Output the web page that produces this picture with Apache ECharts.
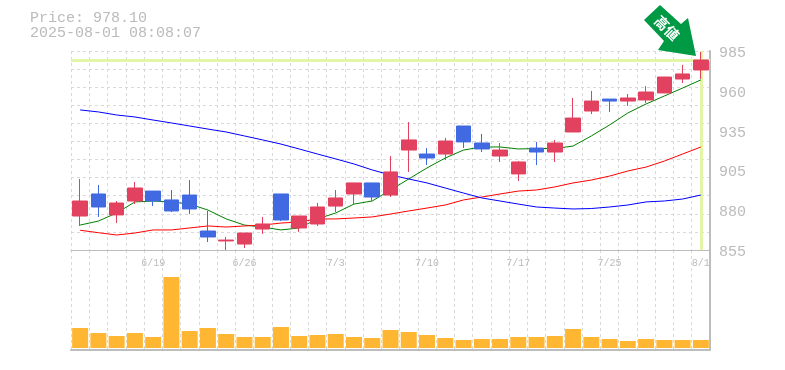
<!DOCTYPE html>
<html>
<head>
<meta charset="utf-8">
<style>
  html, body { margin: 0; padding: 0; background: #fff; }
  #chart { width: 785px; height: 370px; }
</style>
<script src="https://cdn.jsdelivr.net/npm/echarts@6/dist/echarts.min.js"></script>
</head>
<body>
<div id="chart"></div>
<script>
const categories = ['6/13','6/16','6/17','6/18','6/19','6/20','6/23','6/24','6/25','6/26','6/27','6/30','7/1','7/2','7/3','7/4','7/7','7/8','7/9','7/10','7/11','7/14','7/15','7/16','7/17','7/18','7/22','7/23','7/24','7/25','7/28','7/29','7/30','7/31','8/1']
// open, close, low, high
const candles = [
  [877.2,887,870.7,901.4],[891.6,883.1,876.6,897.5],[877.9,885.7,872.6,887],[887,895.5,885,899.4],[893.5,887,883.7,893.5],
  [887.7,880.5,879.8,894.2],[890.9,881.8,878.5,900.7],[867.4,863.5,860.2,880.5],[860.9,861.5,855,863.5],[858.9,866.1,856.3,866.1],
  [868.7,872,865.5,876.6],[891.6,874.6,873.9,891.6],[869.4,877.2,866.8,877.2],[872,883.1,870.7,885.7],[883.7,889,879.8,894.2],
  [891.6,898.8,884.4,898.8],[898.8,889.6,887,898.8],[890.9,906,889.6,916.4],[920.3,926.9,906,938.6],[917.7,915.1,910.5,921.6],
  [917.7,926.2,913.8,928.2],[936,925.6,921.6,936],[924.9,921,919,930.8],[916.4,920.3,912.5,924.9],[904.7,912.5,900.1,913.1],
  [921.6,919,910.5,925.6],[919,924.9,912.5,926.9],[932.1,941.2,932.1,954.3],[945.8,952.3,943.8,958.9],[953.6,952.3,945.2,953.6],
  [952.3,954.3,949.1,956.9],[953,958.2,951,962.1],[957.6,968,957.6,968],[966.7,970,964.1,975.9],[972.6,979.1,966.7,984.4]
]
const maGreen = [871.3,873.9,879.2,886.4,887,886.4,885,881.1,875.3,871.3,870,868.1,869.4,875.3,879.2,885,887,894.2,901.4,908.6,915.1,920.3,922.3,922.3,921,921.3,921.3,922.9,929.5,936.7,944.5,950.4,955.6,960.8,966.1]
const maRed = [867.9,866.3,864.8,866.1,868.1,868.1,869.4,870.7,870,870.7,871.3,872.6,873.3,875.3,875.3,875.9,876.6,878.5,880.5,882.4,884.4,887.7,889.6,891.6,893.5,894.2,896.2,898.8,900.7,903.3,906.6,909.2,913.1,917.7,922.3]
const maBlue = [946.5,945.2,943.2,941.9,939.9,938,936,934,932.1,929.5,926.9,924.2,921,917.7,914.5,911.2,907.3,904,901.4,898.8,895.5,892.2,889,887,885,883.1,882.4,881.8,882.1,883.1,884.4,886.4,887,888.3,890.9]
const volumes = [20,15,12,15,11,71,17,20,14,11,11,21,12,13,14,11,10,18,16,13,10,8,9,9,11,11,12,19,11,9,7,9,8,8,8]
const priceTicks = [855,881,907,933,959,985]
const priceTickLabels = ['855','880','905','935','960','985']
const gridTicks = [855,866.8,878.6,890.5,902.3,914.1,925.9,937.7,949.5,961.4,973.2,985]
const lastPrice = 978.8

const GRAY = '#bdbdbd'
const GRID_LINE = { lineStyle: { color: '#d9d9d9', type: [3, 3], width: 1 } }
const monoFont = '"Liberation Mono", monospace'

const myChart = echarts.init(document.getElementById('chart'), null, { renderer: 'canvas' })

myChart.setOption({
  backgroundColor: '#fff',
  animation: false,
  grid: [
    { left: 71, right: 75, top: 51, height: 199 },
    { left: 71, right: 75, top: 250, height: 100 }
  ],
  graphic: [
    { type: 'text', left: 30, top: 11, style: { text: 'Price: 978.10', font: '15px ' + monoFont, fill: '#bbb' } },
    { type: 'text', left: 30, top: 26, style: { text: '2025-08-01 08:08:07', font: '15px ' + monoFont, fill: '#bbb' } },
    {
      type: 'polygon',
      z: 100,
      shape: { points: [[660, 5], [644, 20], [664, 41], [658, 50], [696, 56], [688, 18], [681, 24]] },
      style: { fill: '#009944' }
    },
    {
      type: 'text',
      z: 101,
      x: 667,
      y: 28,
      rotation: -Math.PI / 4,
      style: { text: '高値', font: 'bold 14px "Noto Sans CJK JP"', fill: '#fff', align: 'center', verticalAlign: 'middle' }
    }
  ],
  xAxis: [
    {
      type: 'category',
      gridIndex: 0,
      data: categories,
      axisLine: { show: false },
      axisTick: { show: false },
      axisLabel: { show: false },
      splitLine: { show: true, interval: 0, ...GRID_LINE }
    },
    {
      type: 'category',
      gridIndex: 1,
      position: 'top',
      data: categories,
      axisLine: { show: true, onZero: false, lineStyle: { color: GRAY, width: 1 } },
      axisTick: { show: false },
      axisLabel: {
        show: true,
        inside: true,
        margin: 8,
        interval: (i) => i % 5 === 4,
        color: '#bbb',
        fontSize: 10,
        fontFamily: monoFont
      },
      splitLine: { show: true, interval: 0, ...GRID_LINE }
    },
    {
      type: 'category',
      gridIndex: 1,
      position: 'bottom',
      data: categories,
      axisLine: { show: true, onZero: false, lineStyle: { color: GRAY, width: 2 } },
      axisTick: { show: false },
      axisLabel: { show: false }
    }
  ],
  yAxis: [
    {
      type: 'value',
      gridIndex: 0,
      position: 'right',
      min: 855,
      max: 985,
      axisLine: { show: true, lineStyle: { color: GRAY, width: 2 } },
      axisTick: { show: false, customValues: priceTicks },
      axisLabel: {
        customValues: priceTicks,
        margin: 9,
        color: '#bbb',
        fontSize: 15,
        fontFamily: monoFont,
        verticalAlign: 'top',
        lineHeight: 4,
        formatter: (v) => priceTickLabels[priceTicks.indexOf(v)]
      },
      splitLine: { show: false }
    },
    {
      type: 'value',
      gridIndex: 0,
      position: 'left',
      min: 855,
      max: 985,
      axisLine: { show: false },
      axisTick: { show: false, customValues: gridTicks },
      axisLabel: { show: false },
      splitLine: { show: true, ...GRID_LINE }
    },
    {
      type: 'value',
      gridIndex: 1,
      position: 'right',
      min: -2,
      max: 98,
      axisLine: { show: true, onZero: false, lineStyle: { color: GRAY, width: 2 } },
      axisTick: { show: false },
      axisLabel: { show: false },
      splitLine: { show: false }
    }
  ],
  series: [
    {
      name: 'MA short',
      type: 'line',
      data: maGreen,
      symbol: 'none',
      z: 3,
      lineStyle: { color: '#008000', width: 1 },
      markLine: {
        silent: true,
        symbol: 'none',
        z: 1,
        label: { show: false },
        lineStyle: { color: '#e3f5a6', width: 3, type: 'solid' },
        data: [{ yAxis: lastPrice }, { xAxis: categories.length - 1 }]
      }
    },
    { name: 'MA mid', type: 'line', data: maRed, symbol: 'none', z: 3, lineStyle: { color: '#ff0000', width: 1 } },
    { name: 'MA long', type: 'line', data: maBlue, symbol: 'none', z: 3, lineStyle: { color: '#0000ff', width: 1 } },
    {
      name: 'Price',
      type: 'candlestick',
      data: candles,
      z: 5,
      barWidth: 15,
      itemStyle: {
        color: '#e2415f',
        color0: '#4169e1',
        borderColor: '#e2415f',
        borderColor0: '#4169e1',
        borderWidth: 1
      }
    },
    {
      name: 'Volume',
      type: 'bar',
      xAxisIndex: 1,
      yAxisIndex: 2,
      data: volumes,
      barWidth: 16,
      itemStyle: { color: '#ffb733' }
    }
  ]
})
</script>
</body>
</html>
